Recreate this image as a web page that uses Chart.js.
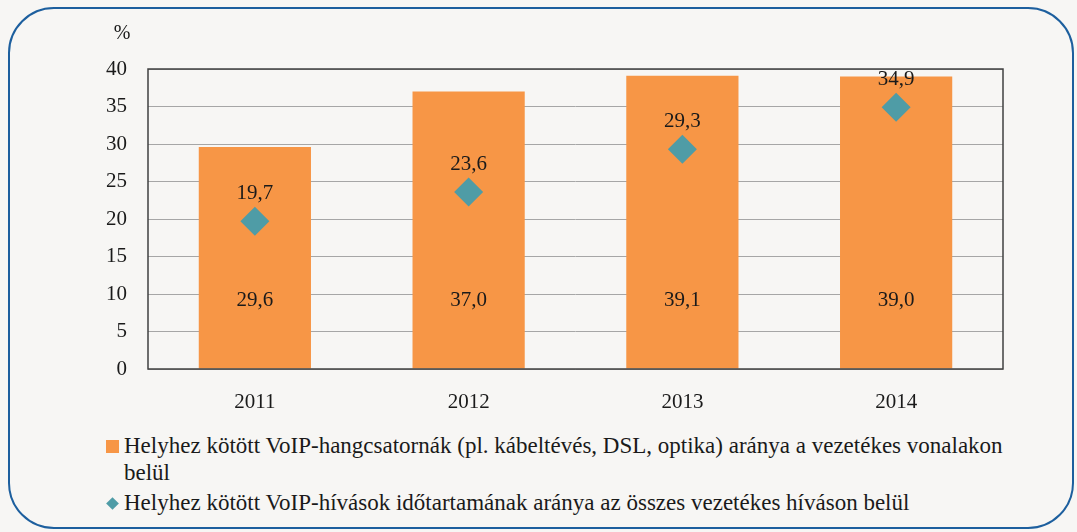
<!DOCTYPE html>
<html>
<head>
<meta charset="utf-8">
<script src="https://cdn.jsdelivr.net/npm/chart.js@4"></script>
<style>
    html, body { margin: 0; padding: 0; background: #f7f6f4; }
    body { width: 1077px; height: 532px; position: relative; overflow: hidden; }
    .frame {
        position: absolute; left: 8px; top: 7px; width: 1066px; height: 522px;
        border: 2px solid #1d5f9e; border-radius: 46px; box-sizing: border-box;
    }
    .chart-box { position: absolute; left: 0; top: 0; width: 1077px; height: 420px; }
    .legend {
        position: absolute; left: 106px; top: 432px; width: 950px;
        font-family: 'Liberation Serif'; font-size: 23px; color: #1a1a1a;
        line-height: 27px;
    }
    .legend .item { position: relative; padding-left: 18px; margin-bottom: 3px; white-space: nowrap; }
    .legend .mark { position: absolute; }
    .legend .sq { left: 0; top: 8px; width: 13px; height: 13px; background: #f79646; }
    .legend .dia { left: 2px; top: 10px; width: 9px; height: 9px; background: #4f9ca6; transform: rotate(45deg); }
</style>
</head>
<body>
<div class="frame"></div>
<div class="chart-box"><canvas id="chart"></canvas></div>
<div class="legend" id="legend"></div>

<script>
const years = ["2011", "2012", "2013", "2014"];
const voipChannels = [29.6, 37.0, 39.1, 39.0];
const voipCallShare = [19.7, 23.6, 29.3, 34.9];
const yTicks = [0, 5, 10, 15, 20, 25, 30, 35, 40];
const seriesNames = [
    "Helyhez kötött VoIP-hangcsatornák (pl. kábeltévés, DSL, optika) aránya a vezetékes vonalakon belül",
    "Helyhez kötött VoIP-hívások időtartamának aránya az összes vezetékes híváson belül"
];

const FONT = "'Liberation Serif'";
const fmt = v => v.toFixed(1).replace('.', ',');

// keret, % felirat, értékcímkék
const extras = {
    id: 'extras',
    afterDatasetsDraw(chart) {
        const { ctx, chartArea: a, scales: { y } } = chart;
        ctx.save();
        ctx.strokeStyle = '#404040';
        ctx.lineWidth = 1.5;
        ctx.strokeRect(a.left, a.top, a.right - a.left, a.bottom - a.top);

        ctx.fillStyle = '#1a1a1a';
        ctx.font = '20px ' + FONT;
        ctx.textAlign = 'center';
        ctx.textBaseline = 'middle';
        ctx.fillText('%', a.left - 26, a.top - 35);

        ctx.font = '21px ' + FONT;
        // dataset 1 = oszlopok, dataset 0 = rombuszok
        chart.getDatasetMeta(1).data.forEach((bar, i) => {
            ctx.fillText(fmt(voipChannels[i]), bar.x, y.getPixelForValue(9.1));
        });
        chart.getDatasetMeta(0).data.forEach((pt, i) => {
            ctx.fillText(fmt(voipCallShare[i]), pt.x, pt.y - 28);
        });
        ctx.restore();
    }
};

document.addEventListener("DOMContentLoaded", () => {
    new Chart(document.getElementById("chart"), {
        data: {
            labels: years,
            datasets: [{
                type: "line",
                label: seriesNames[1],
                data: voipCallShare,
                showLine: false,
                pointStyle: "rectRot",
                pointRadius: 14.5,
                pointHoverRadius: 14.5,
                pointBackgroundColor: "#4f9ca6",
                pointBorderWidth: 0,
                order: 1
            }, {
                type: "bar",
                label: seriesNames[0],
                data: voipChannels,
                backgroundColor: "#f79646",
                barPercentage: 0.525,
                categoryPercentage: 1,
                order: 2
            }]
        },
        options: {
            responsive: true,
            maintainAspectRatio: false,
            animation: false,
            layout: { padding: { top: 69, right: 74, left: 0, bottom: 0 } },
            plugins: { legend: { display: false }, tooltip: { enabled: false } },
            scales: {
                x: {
                    grid: { display: false },
                    border: { display: false },
                    ticks: { color: "#1a1a1a", font: { family: FONT, size: 21 }, padding: 13 },
                    afterFit: s => { s.height = 51; }
                },
                y: {
                    min: 0, max: 40,
                    afterBuildTicks: s => { s.ticks = yTicks.map(v => ({ value: v })); },
                    grid: { color: "#a6a6a6", lineWidth: 1, drawTicks: false },
                    border: { display: false },
                    ticks: { color: "#1a1a1a", font: { family: FONT, size: 21 }, padding: 21 },
                    afterFit: s => { s.width = 148; }
                }
            }
        },
        plugins: [extras]
    });

    const legend = document.getElementById("legend");
    legend.innerHTML =
        '<div class="item"><span class="mark sq"></span>' + seriesNames[0].replace('vonalakon belül', 'vonalakon<br>belül') + '</div>' +
        '<div class="item"><span class="mark dia"></span>' + seriesNames[1] + '</div>';
});
</script>
</body>
</html>
